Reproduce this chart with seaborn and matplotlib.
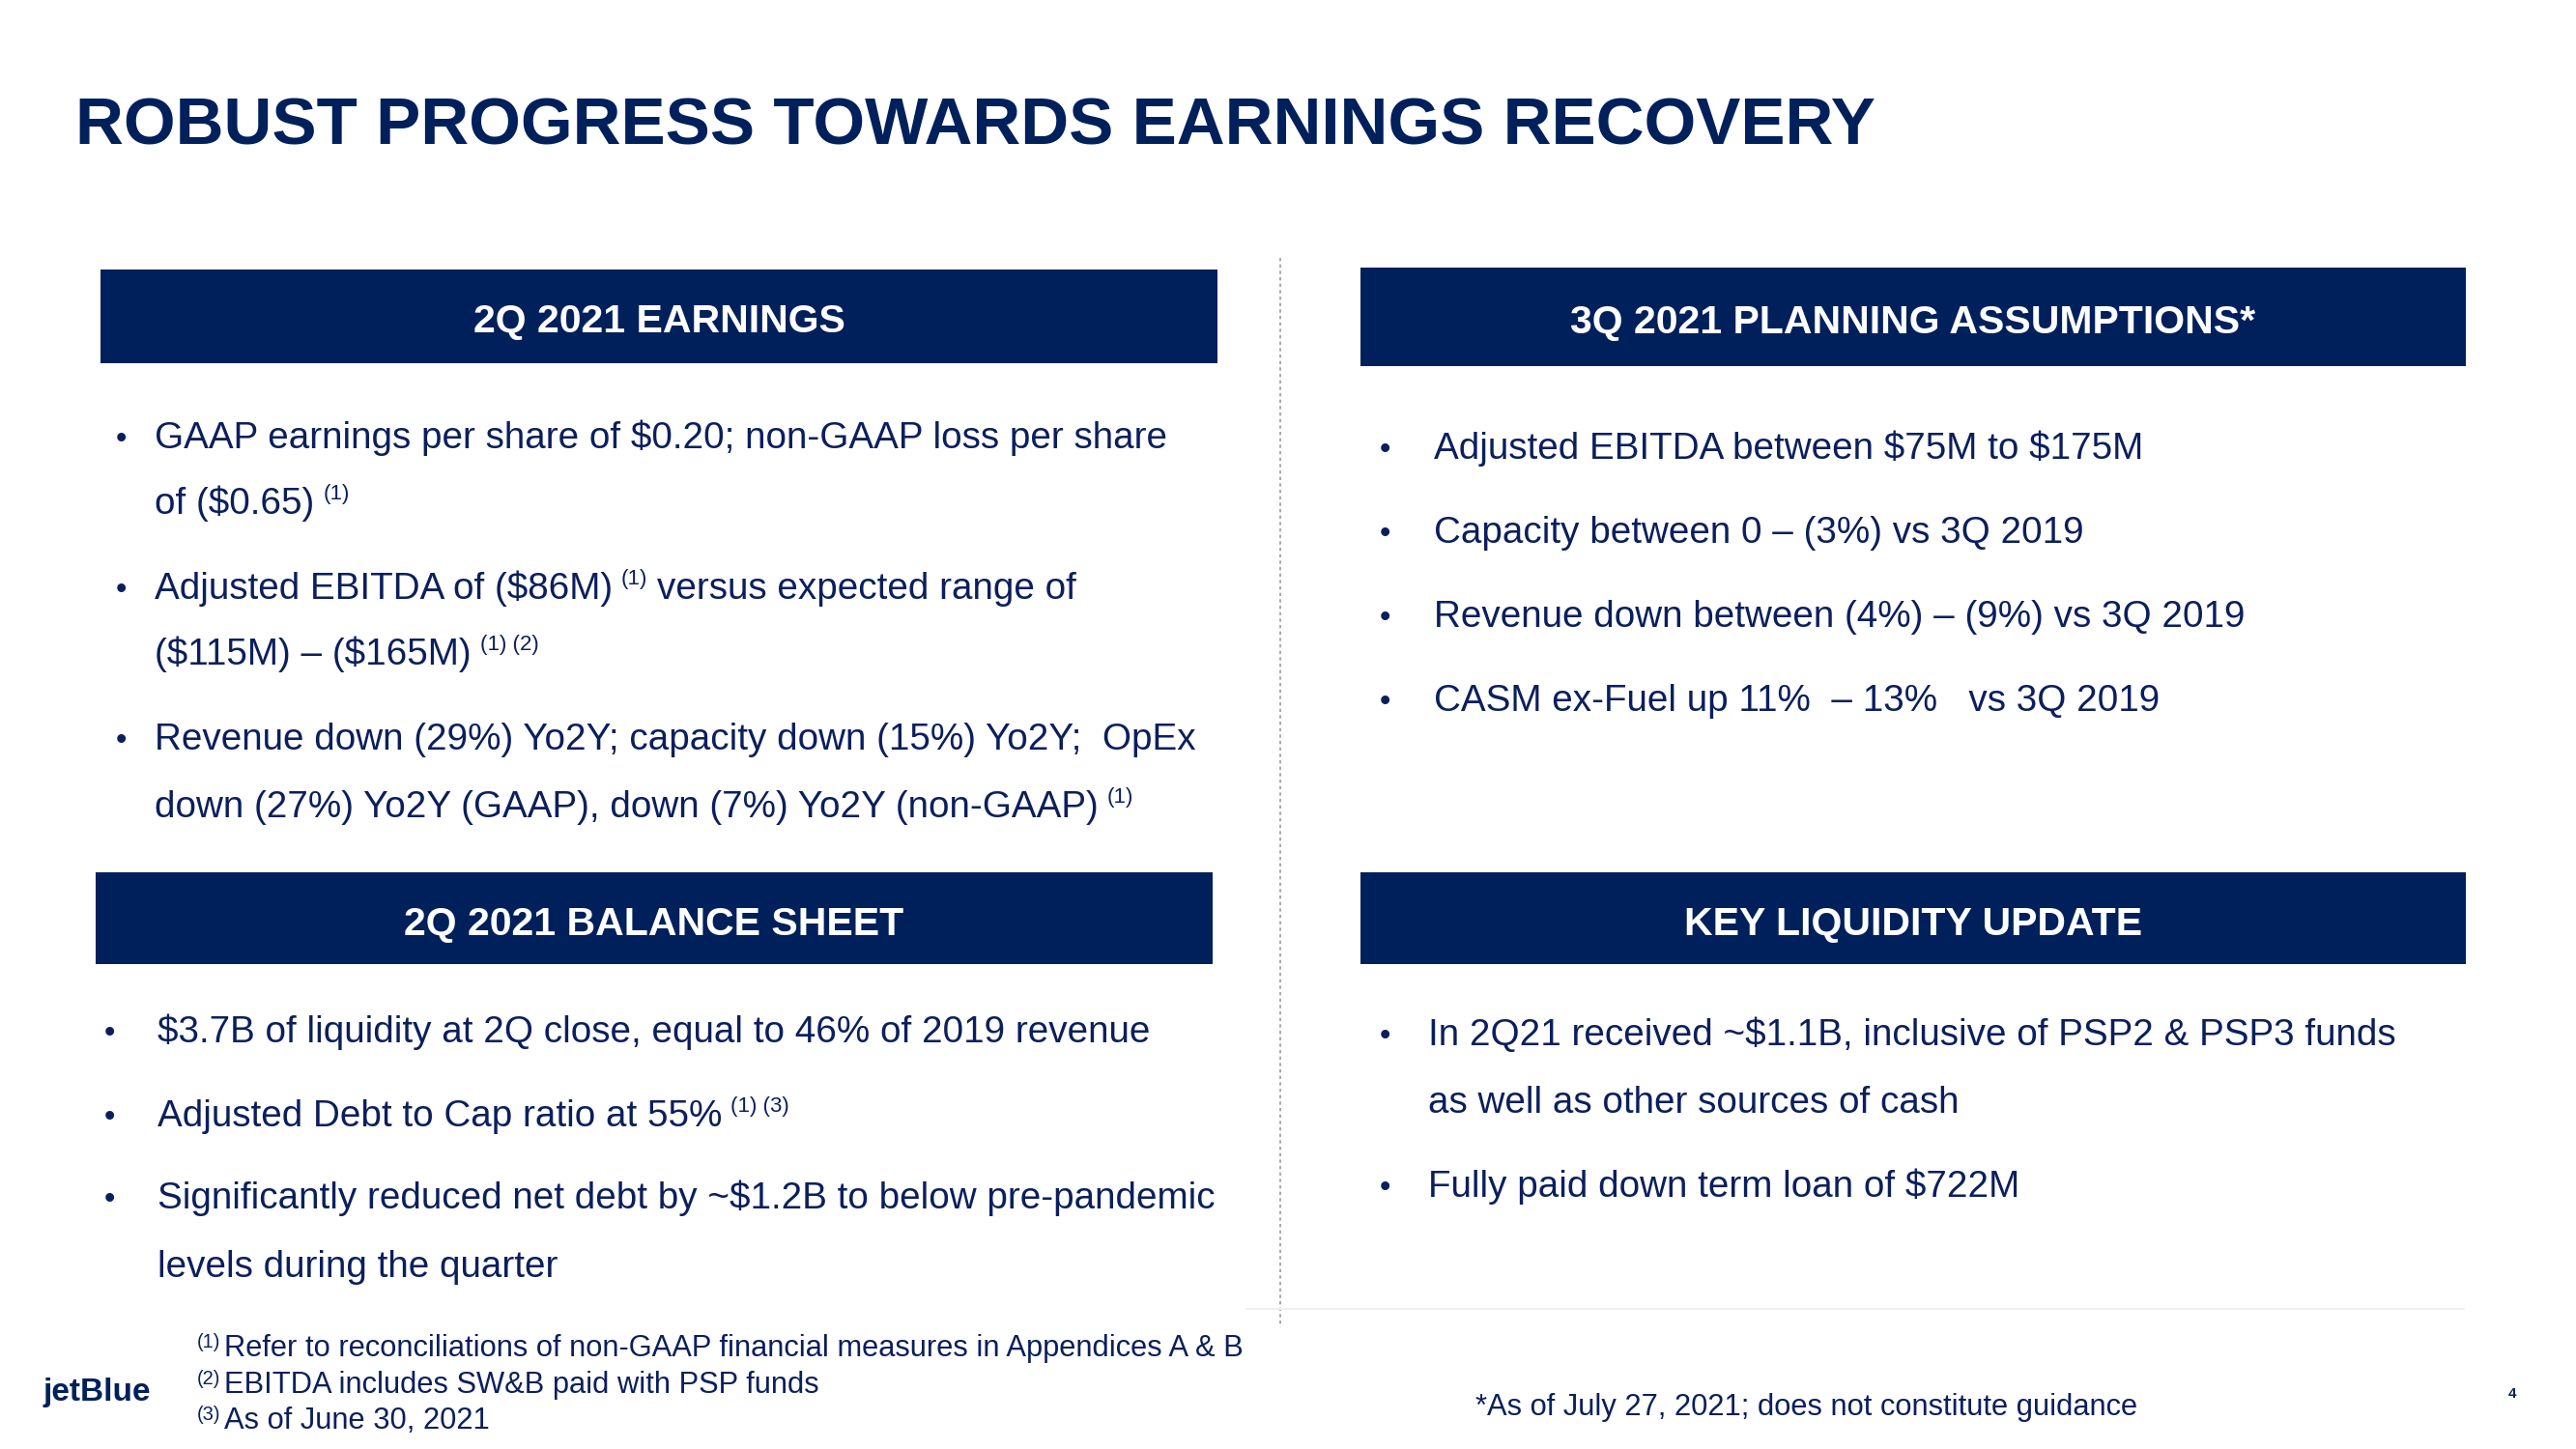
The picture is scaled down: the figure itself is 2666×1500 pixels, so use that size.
import matplotlib
matplotlib.use("Agg")
import matplotlib.pyplot as plt
import seaborn as sns
from matplotlib.patches import Rectangle

sns.set_theme(style="white")
plt.rcParams['font.family'] = ['Liberation Sans', 'DejaVu Sans']

# ---------------- content (data) ----------------
title = "ROBUST PROGRESS TOWARDS EARNINGS RECOVERY"
header_labels = ["2Q 2021 EARNINGS", "3Q 2021 PLANNING ASSUMPTIONS*",
                 "2Q 2021 BALANCE SHEET", "KEY LIQUIDITY UPDATE"]

# each line: list of (text, kind) ; kind "m" = main text, "s" = superscript
earnings_lines = [
    [("GAAP earnings per share of $0.20; non-GAAP loss per share", "m")],
    [("of ($0.65)", "m"), ("(1)", "s")],
    [("Adjusted EBITDA of ($86M)", "m"), ("(1)", "s"), ("versus expected range of", "m")],
    [("($115M) – ($165M)", "m"), ("(1) (2)", "s")],
    [("Revenue down (29%) Yo2Y; capacity down (15%) Yo2Y;  OpEx", "m")],
    [("down (27%) Yo2Y (GAAP), down (7%) Yo2Y (non-GAAP)", "m"), ("(1)", "s")],
]
earnings_bullet = [True, False, True, False, True, False]

planning_lines = [
    [("Adjusted EBITDA between $75M to $175M", "m")],
    [("Capacity between 0 – (3%) vs 3Q 2019", "m")],
    [("Revenue down between (4%) – (9%) vs 3Q 2019", "m")],
    [("CASM ex-Fuel up 11%  – 13%   vs 3Q 2019", "m")],
]
planning_bullet = [True, True, True, True]

balance_lines = [
    [("$3.7B of liquidity at 2Q close, equal to 46% of 2019 revenue", "m")],
    [("Adjusted Debt to Cap ratio at 55%", "m"), ("(1) (3)", "s")],
    [("Significantly reduced net debt by ~$1.2B to below pre-pandemic", "m")],
    [("levels during the quarter", "m")],
]
balance_bullet = [True, True, True, False]

liquidity_lines = [
    [("In 2Q21 received ~$1.1B, inclusive of PSP2 & PSP3 funds", "m")],
    [("as well as other sources of cash", "m")],
    [("Fully paid down term loan of $722M", "m")],
]
liquidity_bullet = [True, False, True]

footnote_lines = [
    [("(1)", "s"), ("Refer to reconciliations of non-GAAP financial measures in Appendices A & B", "m")],
    [("(2)", "s"), ("EBITDA includes SW&B paid with PSP funds", "m")],
    [("(3)", "s"), ("As of June 30, 2021", "m")],
]
guidance_note = "*As of July 27, 2021; does not constitute guidance"
logo_text = "jetBlue"
page_number = "4"

# ---------------- layout ----------------
NAVY = '#0b1f5c'
BOX = '#00205b'
W, H = 2666, 1500

fig = plt.figure(figsize=(26.66, 15), dpi=100)
ax = fig.add_axes([0, 0, 1, 1])
ax.set_xlim(0, W)
ax.set_ylim(H, 0)
ax.axis('off')
renderer = fig.canvas.get_renderer()

BODY = 27.8
SUP = 16
FOOT = 22.2
FOOT_SUP = 14.5


def draw_parts(x, y, parts, size, sup_size, rise, gap, color=NAVY):
    cur = x
    for i, (txt, kind) in enumerate(parts):
        if i > 0:
            cur += gap
        if kind == "m":
            t = ax.text(cur, y, txt, fontsize=size, color=color, ha='left',
                        va='baseline', parse_math=False)
        else:
            t = ax.text(cur, y - rise, txt, fontsize=sup_size, color=color,
                        ha='left', va='baseline', parse_math=False)
        bb = t.get_window_extent(renderer=renderer)
        cur = ax.transData.inverted().transform((bb.x1, bb.y0))[0]


def draw_block(lines, bullets, bullet_x, text_x, ys):
    for parts, b, y in zip(lines, bullets, ys):
        base = y + 13
        if b:
            ax.text(bullet_x, base, "•", fontsize=BODY * 0.85, color=NAVY,
                    ha='left', va='baseline')
        draw_parts(text_x, base, parts, BODY, SUP, 15, 9)


# title
ax.text(78, 124 + 25, title, fontsize=49.8, fontweight='bold', color=BOX,
        ha='left', va='baseline')

# header boxes
boxes = [(104, 279, 1260, 376), (1408, 277, 2552, 379),
         (99, 903, 1255, 998), (1408, 903, 2552, 998)]
for (x0, y0, x1, y1), lab in zip(boxes, header_labels):
    ax.add_patch(Rectangle((x0, y0), x1 - x0, y1 - y0, facecolor=BOX,
                           edgecolor='none'))
    ax.text((x0 + x1) / 2, (y0 + y1) / 2 + 17, lab, fontsize=29.5,
            fontweight='bold', color='white', ha='center', va='baseline')

# divider
ax.plot([1325, 1325], [267, 1374], color='#9a9a9a', lw=1.2,
        ls=(0, (2, 2)))
ax.plot([1290, 2550], [1355, 1355], color='#f0f0f0', lw=1.5)

# text blocks
draw_block(earnings_lines, earnings_bullet, 120, 160,
           [451, 519, 607, 675, 763, 833])
draw_block(planning_lines, planning_bullet, 1428, 1484,
           [462, 549, 636, 723])
draw_block(balance_lines, balance_bullet, 108, 163,
           [1066, 1153, 1238, 1309])
draw_block(liquidity_lines, liquidity_bullet, 1428, 1478,
           [1069, 1139, 1226])

# footnotes
for parts, y in zip(footnote_lines, [1394, 1432, 1469]):
    draw_parts(204, y + 10, parts, FOOT, FOOT_SUP, 9, 4)

ax.text(1527, 1455 + 10, guidance_note, fontsize=FOOT, color=NAVY,
        ha='left', va='baseline', parse_math=False)

# logo and page number
ax.text(44, 1438 + 12, logo_text, fontsize=24, fontweight='bold',
        color=BOX, ha='left', va='baseline')
ax.text(2600, 1440 + 7, page_number, fontsize=11, fontweight='bold',
        color=NAVY, ha='center', va='baseline')

fig.savefig("out.png", dpi=100, facecolor='white')
